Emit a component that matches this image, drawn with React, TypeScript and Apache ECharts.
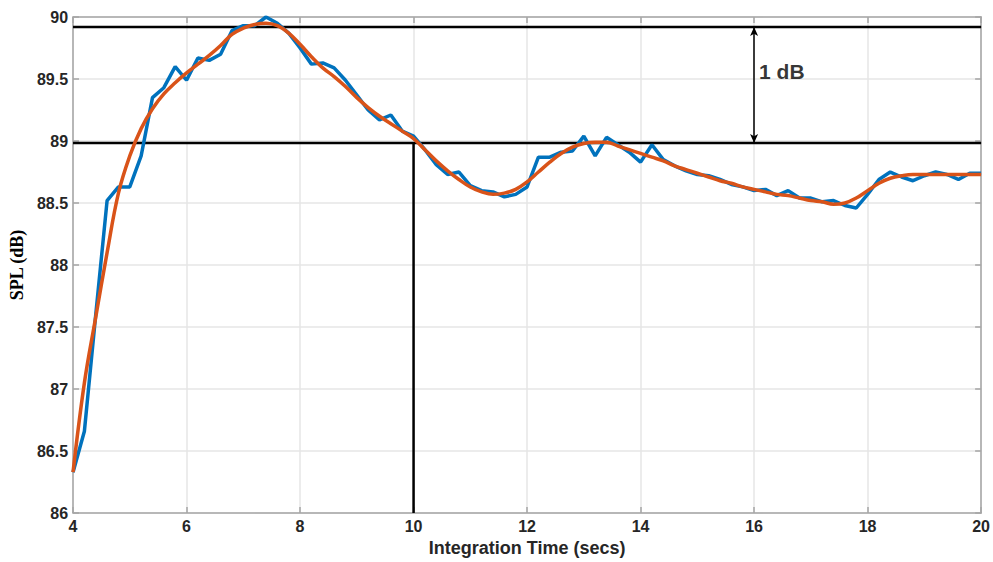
import React, { useEffect, useRef } from "react";
import * as echarts from "echarts";

// Integration time axis (secs), sampled every 0.2 s
const timeStart = 4;
const timeStep = 0.2;

// Measured SPL (dB) – blue
const measuredSPL = [
  86.33, 86.66, 87.6, 88.52, 88.63,
  88.63, 88.88, 89.35, 89.43, 89.6,
  89.49, 89.67, 89.65, 89.7, 89.89,
  89.93, 89.93, 90.0, 89.95, 89.87,
  89.75, 89.62, 89.63, 89.59, 89.49,
  89.37, 89.25, 89.17, 89.21, 89.08,
  89.04, 88.93, 88.81, 88.73, 88.75,
  88.64, 88.6, 88.59, 88.55, 88.57,
  88.63, 88.87, 88.87, 88.91, 88.92,
  89.04, 88.88, 89.03, 88.97, 88.91,
  88.83, 88.97, 88.85, 88.8, 88.76,
  88.73, 88.72, 88.69, 88.65, 88.63,
  88.6, 88.61, 88.56, 88.6, 88.54,
  88.54, 88.51, 88.52, 88.48, 88.46,
  88.57, 88.69, 88.75, 88.71, 88.68,
  88.72, 88.75, 88.73, 88.69, 88.74,
  88.74,
];

// Smoothed fit (dB) – orange
const fittedSPL = [
  86.33, 87.05, 87.58, 88.1, 88.58,
  88.88, 89.1, 89.26, 89.38, 89.47,
  89.55, 89.62, 89.69, 89.77, 89.86,
  89.91, 89.94, 89.95, 89.93, 89.87,
  89.78, 89.68, 89.59, 89.52, 89.44,
  89.35, 89.27, 89.2, 89.14, 89.08,
  89.02, 88.93, 88.84, 88.76, 88.69,
  88.63, 88.59, 88.57, 88.58, 88.61,
  88.67, 88.75, 88.83, 88.9, 88.95,
  88.98, 88.99, 88.99, 88.96, 88.93,
  88.9, 88.87, 88.84, 88.8, 88.77,
  88.74, 88.71, 88.68, 88.66, 88.63,
  88.61, 88.59, 88.57, 88.56, 88.54,
  88.52, 88.51, 88.49, 88.5, 88.54,
  88.6, 88.66, 88.7, 88.72, 88.73,
  88.73, 88.73, 88.73, 88.73, 88.73,
  88.73,
];

// Reference annotation values
const upperRef = 89.92;
const lowerRef = 88.985;
const cutoffTime = 10;
const arrowTime = 16;
const arrowLabel = "1 dB";
const arrowLabelY = 89.56;

const xTicks = { min: 4, max: 20, interval: 2 };
const yTicks = { min: 86, max: 90, interval: 0.5 };

const xTitle = "Integration Time (secs)";
const yTitle = "SPL (dB)";

export default function App() {
  const ref = useRef<HTMLDivElement>(null);

  useEffect(() => {
    document.body.style.margin = "0";
    if (!ref.current) return;
    const chart = echarts.init(ref.current, undefined, { renderer: "svg" });

    const toPairs = (arr: number[]) =>
      arr.map((v, i) => [+(timeStart + i * timeStep).toFixed(2), v]);

    const labelStyle = {
      color: "#262626",
      fontWeight: "bold" as const,
      fontSize: 16,
      fontFamily: "Liberation Sans, Arial, sans-serif",
    };
    const axisLineStyle = { color: "#a6a6a6", width: 1.5 };

    chart.setOption({
      animation: false,
      backgroundColor: "#ffffff",
      grid: { left: 73, right: 11.5, top: 17, bottom: 43.5, containLabel: false },
      xAxis: [
        {
          type: "value",
          min: xTicks.min,
          max: xTicks.max,
          interval: xTicks.interval,
          position: "bottom",
          name: xTitle,
          nameLocation: "middle",
          nameGap: 23,
          nameTextStyle: { ...labelStyle, fontSize: 18 },
          axisLine: { show: true, onZero: false, lineStyle: axisLineStyle },
          axisTick: { show: true, inside: true, length: 6, lineStyle: axisLineStyle },
          axisLabel: { ...labelStyle, margin: 5 },
          splitLine: { show: true, lineStyle: { color: "#e6e6e6", width: 1.5 } },
        },
        {
          type: "value",
          min: xTicks.min,
          max: xTicks.max,
          interval: xTicks.interval,
          position: "top",
          axisLine: { show: true, onZero: false, lineStyle: axisLineStyle },
          axisTick: { show: true, inside: true, length: 6, lineStyle: axisLineStyle },
          axisLabel: { show: false },
          splitLine: { show: false },
        },
      ],
      yAxis: [
        {
          type: "value",
          min: yTicks.min,
          max: yTicks.max,
          interval: yTicks.interval,
          position: "left",
          name: yTitle,
          nameLocation: "middle",
          nameGap: 46,
          nameTextStyle: {
            color: "#000",
            fontWeight: "bold",
            fontSize: 18,
            fontFamily: "Liberation Serif, Times New Roman, serif",
          },
          axisLine: { show: true, onZero: false, lineStyle: axisLineStyle },
          axisTick: { show: true, inside: true, length: 6, lineStyle: axisLineStyle },
          axisLabel: { ...labelStyle, margin: 5 },
          splitLine: { show: true, lineStyle: { color: "#e6e6e6", width: 1.5 } },
        },
        {
          type: "value",
          min: yTicks.min,
          max: yTicks.max,
          interval: yTicks.interval,
          position: "right",
          axisLine: { show: true, onZero: false, lineStyle: axisLineStyle },
          axisTick: { show: true, inside: true, length: 6, lineStyle: axisLineStyle },
          axisLabel: { show: false },
          splitLine: { show: false },
        },
      ],
      series: [
        {
          name: "upper",
          type: "line",
          data: [[xTicks.min, upperRef], [xTicks.max, upperRef]],
          symbol: "none",
          lineStyle: { color: "#000", width: 2.5 },
          z: 1,
        },
        {
          name: "lower",
          type: "line",
          data: [[xTicks.min, lowerRef], [xTicks.max, lowerRef]],
          symbol: "none",
          lineStyle: { color: "#000", width: 2.5 },
          z: 1,
        },
        {
          name: "cutoff",
          type: "line",
          data: [[cutoffTime, yTicks.min], [cutoffTime, lowerRef]],
          symbol: "none",
          lineStyle: { color: "#000", width: 2.5 },
          z: 1,
        },
        {
          name: "measured",
          type: "line",
          data: toPairs(measuredSPL),
          symbol: "none",
          lineStyle: { color: "#0072BD", width: 3.5 },
          z: 2,
        },
        {
          name: "fit",
          type: "line",
          data: toPairs(fittedSPL),
          symbol: "none",
          smooth: 0.4,
          lineStyle: { color: "#D95319", width: 3.5 },
          z: 3,
        },
        {
          name: "arrow",
          type: "line",
          data: [],
          markLine: {
            silent: true,
            symbol: ["arrow", "arrow"],
            symbolSize: [6, 9],
            label: { show: false },
            lineStyle: { color: "#000", width: 1.5, type: "solid" },
            data: [[{ coord: [arrowTime, upperRef] }, { coord: [arrowTime, lowerRef] }]],
          },
          z: 4,
        },
        {
          name: "arrowLabel",
          type: "scatter",
          data: [[arrowTime, arrowLabelY]],
          symbolSize: 0,
          label: {
            show: true,
            position: "right",
            distance: 5,
            formatter: arrowLabel,
            color: "#000",
            fontWeight: "bold",
            fontSize: 21,
            fontFamily: "Liberation Sans, Arial, sans-serif",
          },
          z: 5,
        },
      ],
    });

    return () => chart.dispose();
  }, []);

  return <div ref={ref} style={{ width: 993, height: 562 }} />;
}
